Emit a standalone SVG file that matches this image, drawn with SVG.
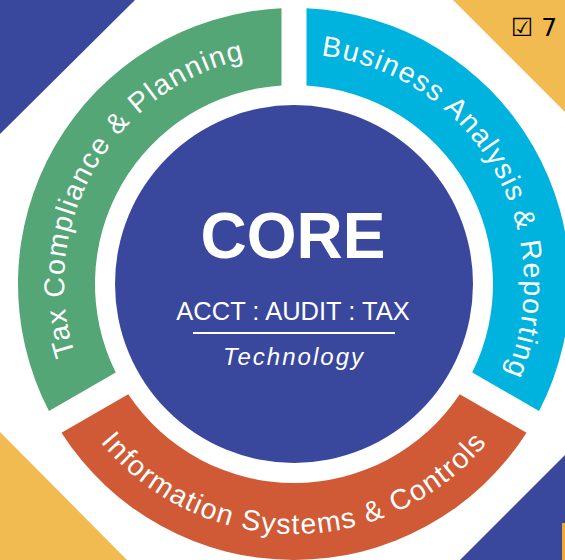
<svg xmlns="http://www.w3.org/2000/svg" width="565" height="560" viewBox="0 0 565 560">
  <style>
    .ring-text { font-family: "Liberation Sans", Arial, sans-serif; font-size: 28.5px; fill: #ffffff; letter-spacing: 1.4px; }
    .core { font-family: "Liberation Sans", Arial, sans-serif; fill: #ffffff; text-anchor: middle; }
  </style>
  <defs>
    <path id="arc-green" d="M 179 483.19 A 230 230 0 0 1 409 84.81"/>
    <path id="arc-cyan" d="M 179 84.81 A 230 230 0 0 1 409 483.19"/>
    <path id="arc-orange" d="M 44 284 A 250 250 0 0 0 544 284"/>
  </defs>
  <rect width="565" height="560" fill="#ffffff"/>
  <g id="background">
    <polygon points="0,0 135,0 0,134" fill="#39479c"/>
    <polygon points="453,0 565,0 565,112" fill="#f2bb52"/>
    <polygon points="0,432 0,560 127,560" fill="#f2bb52"/>
    <polygon points="460,560 565,455 565,560" fill="#39479c"/>
    <rect x="562" y="523" width="3" height="37" fill="#f0a830"/>
  </g>
  <g id="tax-compliance">
    <path d="M 48.97 411.03 A 276 276 0 0 1 281.5 8.28 L 281.5 85.39 A 199 199 0 0 0 115.75 372.48 Z" fill="#54a676"/>
    <text class="ring-text"><textPath href="#arc-green" startOffset="50%" text-anchor="middle">Tax Compliance &amp; Planning</textPath></text>
  </g>
  <g id="business-analysis">
    <path d="M 306.5 8.28 A 276 276 0 0 1 539.03 411.03 L 472.25 372.48 A 199 199 0 0 0 306.5 85.39 Z" fill="#00b3de"/>
    <text class="ring-text"><textPath href="#arc-cyan" startOffset="50%" text-anchor="middle">Business Analysis &amp; Reporting</textPath></text>
  </g>
  <g id="information-systems">
    <path d="M 526.53 432.68 A 276 276 0 0 1 61.47 432.68 L 128.25 394.13 A 199 199 0 0 0 459.75 394.13 Z" fill="#d05a36"/>
    <text class="ring-text"><textPath href="#arc-orange" startOffset="50%" text-anchor="middle">Information Systems &amp; Controls</textPath></text>
  </g>
  <g id="core">
    <circle cx="294" cy="284" r="179" fill="#39479c"/>
    <text class="core" x="293" y="258" font-size="64" font-weight="bold">CORE</text>
    <text class="core" x="293" y="320" font-size="25.5">ACCT : AUDIT : TAX</text>
    <line x1="193" y1="333" x2="395" y2="333" stroke="#ffffff" stroke-width="2"/>
    <text class="core" x="293" y="365" font-size="24" font-style="italic" textLength="140" lengthAdjust="spacing">Technology</text>
  </g>
  <g id="badge">
    <text x="511" y="36" font-family="DejaVu Sans, sans-serif" font-size="25" fill="#000000">☑ 7</text>
  </g>
</svg>
